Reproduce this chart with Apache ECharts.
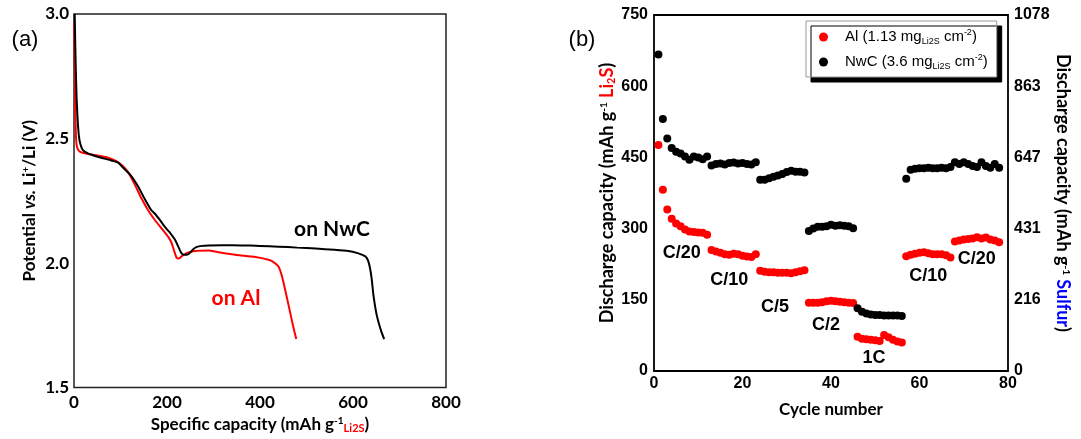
<!DOCTYPE html>
<html><head><meta charset="utf-8">
<script src="https://cdn.jsdelivr.net/npm/echarts@6/dist/echarts.min.js"></script>
<style>html,body{margin:0;padding:0;background:#fff}#c{width:1081px;height:439px}</style>
</head><body><div id="c"></div>
<script>
// ---- Panel (a): discharge curves ----
const nwcCurveCap = [1.5, 2.5, 3.7, 5.5, 7.4, 10, 12.6, 18.5, 30, 45, 60, 80, 95, 107, 122, 137, 152, 166, 174, 185, 196, 205, 211, 217, 222, 227, 231, 236, 244, 250, 256, 263, 275, 290, 320, 360, 400, 440, 480, 520, 560, 590, 610, 620, 627, 632, 636, 640, 644, 650, 656, 661, 667];
const nwcCurveV   = [3.0, 2.9, 2.79, 2.67, 2.59, 2.52, 2.486, 2.455, 2.44, 2.43, 2.422, 2.412, 2.403, 2.38, 2.352, 2.31, 2.258, 2.213, 2.198, 2.172, 2.144, 2.125, 2.11, 2.095, 2.075, 2.055, 2.04, 2.033, 2.034, 2.042, 2.055, 2.064, 2.069, 2.071, 2.072, 2.071, 2.069, 2.066, 2.062, 2.058, 2.053, 2.048, 2.04, 2.033, 2.026, 2.012, 1.985, 1.94, 1.87, 1.8, 1.755, 1.725, 1.695];
const alCurveCap  = [0.5, 1.5, 2.5, 4, 6, 10, 15, 30, 50, 70, 90, 105, 118, 130, 145, 160, 175, 190, 203, 210, 216, 221, 225, 232, 242, 260, 290, 320, 350, 390, 420, 432, 440, 446, 452, 458, 465, 472, 478];
const alCurveV    = [2.97, 2.8, 2.65, 2.52, 2.47, 2.452, 2.445, 2.438, 2.432, 2.425, 2.41, 2.39, 2.36, 2.318, 2.26, 2.21, 2.17, 2.135, 2.104, 2.08, 2.045, 2.02, 2.018, 2.028, 2.04, 2.048, 2.05, 2.04, 2.032, 2.024, 2.012, 2.0, 1.985, 1.955, 1.91, 1.86, 1.8, 1.74, 1.695];

// ---- Panel (b): rate capability ----
const cycleNumbers = [1,2,3,4,5,6,7,8,9,10,11,12,13,14,15,16,17,18,19,20,21,22,23,24,25,26,27,28,29,30,31,32,33,34,35,36,37,38,39,40,41,42,43,44,45,46,47,48,49,50,51,52,53,54,55,56,57,58,59,60,61,62,63,64,65,66,67,68,69,70,71,72,73,74,75,76,77,78];
const alCapacity = [476,382,340,321,311,305,298,294,293,292,291,287,
  255,252,249,246,245,247,246,243,241,240,246,
  211,209,208,208,207,207,207,206,208,210,212,
  144,144,144,145,147,148,147,146,145,144,143,
  72,68,67,66,65,63,76,71,66,62,60,
  242,245,247,249,250,248,246,246,246,244,239,
  273,275,277,278,279,282,279,281,277,275,271];
const nwcCapacity = [667,531,490,470,462,458,452,445,452,450,446,452,
  433,436,437,435,438,439,437,438,436,435,440,
  403,403,406,409,412,415,419,422,420,420,418,
  295,300,304,304,305,308,306,307,306,305,301,
  132,125,121,119,118,118,117,117,117,117,116,
  405,424,426,427,427,428,427,427,428,427,430,
  440,436,440,436,432,430,440,432,428,436,428];
const sulfurTickLabels = ['0','216','431','647','863','1078'];
const rateLabels = ['C/20','C/10','C/5','C/2','1C','C/10','C/20'];
const panelLabels = ['(a)','(b)'];
const curveLabels = ['on NwC','on Al'];

const zip = (a,b) => a.map((v,i)=>[v,b[i]]);
const CAL = 'Lato, "Open Sans", sans-serif';
const ARI = '"Liberation Sans", Arial, sans-serif';

const chart = echarts.init(document.getElementById('c'), null, {renderer:'canvas'});

const supS = (fs, col) => ({fontSize: fs, fontFamily: CAL, fontWeight:'bold', color: col||'#000', padding:[0,0,8,0]});
const subS = (fs, col) => ({fontSize: fs, fontFamily: CAL, fontWeight:'bold', color: col||'#000', padding:[8,0,0,0]});

const rateLabelPos = [[681.7,253.3],[729.3,280],[775,306.7],[826,325],[874,358.3],[928.3,276],[976.7,259.3]];

const graphicEls = [];
graphicEls.push({type:'text', x:25, y:40, style:{text:panelLabels[0], font:'22px '+ARI, fill:'#000', textAlign:'center', textVerticalAlign:'middle'}});
graphicEls.push({type:'text', x:582, y:40, style:{text:panelLabels[1], font:'22px '+ARI, fill:'#000', textAlign:'center', textVerticalAlign:'middle'}});
graphicEls.push({type:'text', x:332, y:229, style:{text:curveLabels[0], font:'bold 21px '+CAL, fill:'#000', textAlign:'center', textVerticalAlign:'middle'}});
graphicEls.push({type:'text', x:236, y:298, style:{text:curveLabels[1], font:'bold 21px '+CAL, fill:'#ff0000', textAlign:'center', textVerticalAlign:'middle'}});
rateLabels.forEach((t,i)=>{
  graphicEls.push({type:'text', x:rateLabelPos[i][0], y:rateLabelPos[i][1], style:{text:t, font:'bold 18px '+ARI, fill:'#000', textAlign:'center', textVerticalAlign:'middle'}});
});

const option = {
  animation:false,
  backgroundColor:'#fff',
  grid:[
    {left:74, top:14, width:372, height:374, show:true, borderColor:'#222', borderWidth:1.5},
    {left:654, top:15, width:354, height:356, show:true, borderColor:'#000', borderWidth:1.8}
  ],
  xAxis:[
    {type:'value', gridIndex:0, min:0, max:800, interval:200, splitLine:{show:false}, axisLine:{show:false}, axisTick:{show:false},
     axisLabel:{fontFamily:CAL, fontWeight:'bold', fontSize:17, color:'#000', margin:6},
     name:'Specific capacity (mAh g{sup|-1}{sub|Li2S})', nameLocation:'middle', nameGap:27,
     nameTextStyle:{fontFamily:CAL, fontWeight:'bold', fontSize:17, color:'#000', rich:{sup:supS(10), sub:subS(11,'#ff0000')}}},
    {type:'value', gridIndex:1, min:0, max:80, interval:20, splitLine:{show:false}, axisLine:{show:false}, axisTick:{show:false},
     axisLabel:{fontFamily:ARI, fontWeight:'bold', fontSize:16, color:'#000', margin:5},
     name:'Cycle number', nameLocation:'middle', nameGap:30,
     nameTextStyle:{fontFamily:CAL, fontWeight:'bold', fontSize:17, color:'#000'}}
  ],
  yAxis:[
    {type:'value', gridIndex:0, min:1.5, max:3.0, interval:0.5, splitLine:{show:false}, axisLine:{show:false}, axisTick:{show:false},
     axisLabel:{fontFamily:CAL, fontWeight:'bold', fontSize:17, color:'#000', margin:5, formatter:v=>v.toFixed(1)},
     name:'Potential {it|vs.} Li{sup|+}/Li (V)', nameLocation:'middle', nameGap:35,
     nameTextStyle:{fontFamily:CAL, fontWeight:'bold', fontSize:17, color:'#000', rich:{it:{fontFamily:CAL, fontWeight:'bold', fontStyle:'italic', fontSize:17, color:'#000'}, sup:supS(10)}}},
    {type:'value', gridIndex:1, min:0, max:750, interval:150, splitLine:{show:false}, axisLine:{show:false}, axisTick:{show:false},
     axisLabel:{fontFamily:ARI, fontWeight:'bold', fontSize:16, color:'#000', margin:6},
     name:'Discharge capacity (mAh g{sup|-1} {red|Li}{redsub|2}{red|S})', nameLocation:'middle', nameGap:37,
     nameTextStyle:{fontFamily:CAL, fontWeight:'bold', fontSize:18, color:'#000', rich:{sup:supS(10), red:{fontFamily:CAL, fontWeight:'bold', fontSize:18, color:'#ff0000'}, redsub:subS(11,'#ff0000')}}},
    {type:'value', gridIndex:1, position:'right', min:0, max:750, interval:150, splitLine:{show:false}, axisLine:{show:false}, axisTick:{show:false},
     axisLabel:{fontFamily:ARI, fontWeight:'bold', fontSize:16, color:'#000', margin:6, formatter:(v,i)=>sulfurTickLabels[i]},
     name:'Discharge capacity (mAh g{sup|-1} {blue|Sulfur})', nameLocation:'middle', nameGap:44, nameRotate:-90,
     nameTextStyle:{fontFamily:CAL, fontWeight:'bold', fontSize:18, color:'#000', rich:{sup:supS(10), blue:{fontFamily:CAL, fontWeight:'bold', fontSize:18, color:'#0000ff'}}}}
  ],
  legend:{
    data:['Al','NwC'], orient:'vertical', left:806, top:21, padding:[7,9,6,13], itemGap:7,
    itemWidth:9, itemHeight:9, icon:'circle',
    backgroundColor:'#fff', borderColor:'#999', borderWidth:1,
    shadowColor:'#000', shadowOffsetX:5, shadowOffsetY:5, shadowBlur:0,
    formatter: n => n==='Al' ? 'Al (1.13 mg{sub|Li2S} cm{sup|-2})' : 'NwC (3.6 mg{sub|Li2S} cm{sup|-2})',
    textStyle:{fontFamily:ARI, fontSize:15, color:'#000', padding:[0,0,0,12],
      rich:{sub:{fontFamily:ARI, fontSize:9, color:'#000', padding:[9,0,0,0]}, sup:{fontFamily:ARI, fontSize:9, color:'#000', padding:[0,0,9,0]}}}
  },
  graphic:{elements:graphicEls},
  series:[
    {name:'Al curve', type:'line', xAxisIndex:0, yAxisIndex:0, data:zip(alCurveCap, alCurveV), showSymbol:false, smooth:0.2, lineStyle:{color:'#ff0000', width:2}, itemStyle:{color:'#ff0000'}},
    {name:'NwC curve', type:'line', xAxisIndex:0, yAxisIndex:0, data:zip(nwcCurveCap, nwcCurveV), showSymbol:false, smooth:0.2, lineStyle:{color:'#000', width:2}, itemStyle:{color:'#000'}},
    {name:'Al', type:'scatter', xAxisIndex:1, yAxisIndex:1, data:zip(cycleNumbers, alCapacity), symbolSize:8, itemStyle:{color:'#ff0000', opacity:1}},
    {name:'NwC', type:'scatter', xAxisIndex:1, yAxisIndex:1, data:zip(cycleNumbers, nwcCapacity), symbolSize:8, itemStyle:{color:'#000', opacity:1}}
  ]
};
chart.setOption(option);
</script>
</body></html>
